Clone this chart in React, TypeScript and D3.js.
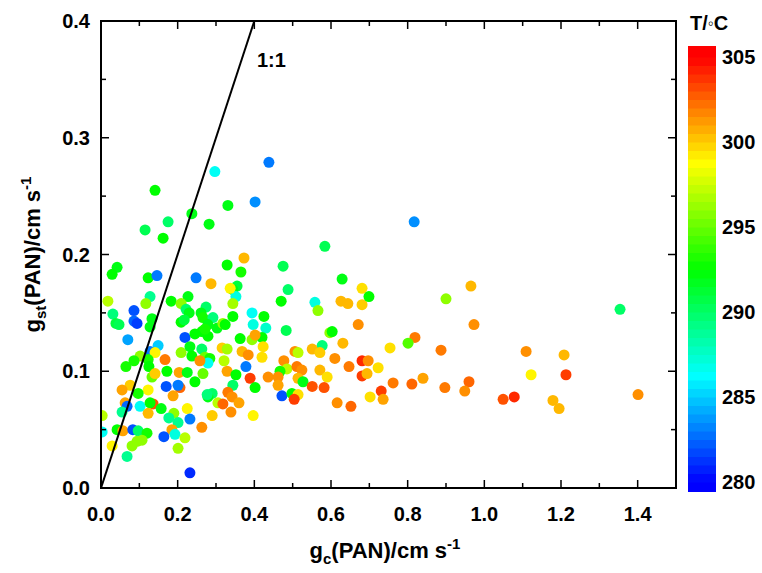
import React from "react";
import * as d3 from "d3";

// g_c(PAN) values (cm s^-1)
const gc = [
  0.297, 0.438, 0.402, 0.331, 0.141, 0.817, 0.237, 0.282, 0.175, 0.115, 0.162, 0.584, 0.373, 0.329, 0.365, 0.475, 0.629, 0.042, 0.029, 0.123, 0.146, 0.248,
  0.287, 0.018, 0.128, 0.117, 0.183, 0.227, 0.209, 0.222, 0.230, 0.274, 0.261, 0.266, 0.292, 0.086, 0.086, 0.094, 0.031, 0.039, 0.047, 0.133, 0.128, 0.209, 0.217, 0.303, 0.318, 0.279,
  0.219, 0.070, 0.245, 0.263, 0.279, 0.271, 0.149, 0.128, 0.141, 0.102, 0.086, 0.123, 0.209, 0.232, 0.237, 0.263, 0.271, 0.284, 0.279, 0.258, 0.316, 0.167,
  0.065, 0.125, 0.133, 0.172, 0.204, 0.225, 0.206, 0.201, 0.170, 0.266, 0.245, 0.141, 0.076, 0.055, 0.123, 0.097, 0.290, 0.305,
  0.136, 0.063, 0.068, 0.102, 0.128, 0.055, 0.123, 0.157, 0.190, 0.188, 0.225, 0.232, 0.177, 0.201, 0.263, 0.290, 0.279, 0.003, 0.003, 0.042, 0.057, 0.083, 0.097, 0.120,
  0.185, 0.193, 0.164, 0.219, 0.201, 0.029, 0.081, 0.094, 0.107, 0.068, 0.232, 0.277,
  0.681, 0.488, 0.355, 0.344, 0.352, 0.344, 0.337, 0.470, 0.558, 0.566, 0.626, 0.644, 0.681, 0.394, 0.425, 0.397, 0.430, 0.344, 0.324, 0.483, 0.597, 0.603, 0.671, 0.631,
  0.577, 0.394, 0.420, 0.363, 0.402, 0.423, 0.329, 0.368, 0.384, 0.420, 0.506, 0.514, 0.551, 0.571, 0.610, 0.681, 0.647, 0.321, 0.329, 0.378, 0.477, 0.485, 0.467,
  0.511, 0.524, 0.571, 0.590, 0.681, 0.514, 0.527, 0.389, 0.436, 0.352, 0.344, 0.402, 0.462, 0.462, 0.551, 0.582, 0.472, 0.498, 0.514, 0.504, 0.331, 0.342, 0.360,
  0.318, 0.339, 0.397, 0.616, 0.652,
  0.699, 0.965, 0.900, 0.973, 0.819, 0.801, 0.754, 0.887, 0.697, 0.723, 0.694, 0.762, 0.811, 0.840, 0.731, 0.702, 0.736, 0.897, 0.960, 0.949, 1.049, 1.078,
  1.354, 1.109, 1.208, 1.122, 1.213, 1.179, 1.195, 1.401,
  -0.012, -0.012,
];

// g_st(PAN) values (cm s^-1)
const gst = [
  0.271, 0.279, 0.245, 0.242, 0.255, 0.228, 0.235, 0.226, 0.228, 0.221, 0.214, 0.207, 0.197, 0.191, 0.185, 0.190, 0.179, 0.189, 0.183, 0.180, 0.182, 0.180,
  0.175, 0.160, 0.164, 0.158, 0.160, 0.164, 0.158, 0.153, 0.150, 0.155, 0.150, 0.146, 0.146, 0.152, 0.143, 0.141, 0.149, 0.141, 0.140, 0.145, 0.138, 0.142, 0.144, 0.137, 0.141, 0.140,
  0.129, 0.127, 0.132, 0.134, 0.130, 0.136, 0.122, 0.117, 0.116, 0.113, 0.109, 0.110, 0.116, 0.121, 0.113, 0.119, 0.112, 0.111, 0.107, 0.109, 0.120, 0.110,
  0.104, 0.104, 0.095, 0.100, 0.099, 0.099, 0.086, 0.088, 0.087, 0.098, 0.091, 0.098, 0.088, 0.084, 0.084, 0.081, 0.081, 0.073,
  0.072, 0.073, 0.070, 0.070, 0.073, 0.065, 0.064, 0.068, 0.064, 0.079, 0.068, 0.059, 0.060, 0.056, 0.052, 0.062, 0.078, 0.062, 0.048, 0.050, 0.049, 0.050, 0.049, 0.047,
  0.050, 0.046, 0.044, 0.043, 0.034, 0.036, 0.036, 0.040, 0.041, 0.027, 0.013, 0.080,
  0.171, 0.170, 0.173, 0.170, 0.164, 0.158, 0.171, 0.160, 0.159, 0.152, 0.160, 0.158, 0.157, 0.150, 0.147, 0.140, 0.137, 0.147, 0.140, 0.135, 0.133, 0.134, 0.140, 0.124,
  0.122, 0.127, 0.129, 0.128, 0.131, 0.121, 0.119, 0.117, 0.114, 0.112, 0.117, 0.116, 0.119, 0.116, 0.111, 0.109, 0.104, 0.109, 0.100, 0.104, 0.109, 0.102, 0.100,
  0.104, 0.101, 0.101, 0.095, 0.096, 0.094, 0.091, 0.094, 0.095, 0.097, 0.088, 0.086, 0.095, 0.088, 0.087, 0.086, 0.079, 0.081, 0.080, 0.076, 0.082, 0.078, 0.073,
  0.072, 0.065, 0.062, 0.073, 0.070,
  0.164, 0.173, 0.162, 0.140, 0.129, 0.124, 0.120, 0.118, 0.109, 0.103, 0.098, 0.090, 0.089, 0.094, 0.083, 0.078, 0.076, 0.086, 0.091, 0.083, 0.076, 0.078,
  0.153, 0.117, 0.114, 0.097, 0.097, 0.075, 0.068, 0.080,
  0.169, 0.134,
];

// Temperature per point
const temp = [
  286.5, 283, 283.5, 292, 292.5, 283.5, 292, 292, 290, 290.5, 292.5, 290.5, 300.5, 292.5, 293, 290.5, 292, 292, 292.5, 292.5, 283, 283,
  300.5, 297, 289, 296, 292.5, 292, 296, 290, 292, 290, 292, 293, 289.5, 282, 282.5, 281.5, 289.5, 291, 290.5, 292, 292, 292.5, 291, 292, 296, 292,
  282, 284, 292.5, 292.5, 292.5, 293, 285, 283, 299, 296, 293, 293, 296, 292, 292.5, 290, 295, 293, 286.5, 301.5, 300, 302,
  293, 292.5, 295, 292.5, 301, 292, 302.5, 283, 282, 295, 292.5, 300, 300, 301, 299, 293, 290, 297,
  303, 301, 282.5, 286.5, 292.5, 289, 300.5, 292, 296, 301, 299, 283, 289, 289, 301.5, 300, 292, 297, 286.5, 292.5, 301, 282, 290, 293,
  301, 287, 282, 297, 296.5, 299, 296, 296, 296, 289, 281, 289.5,
  299.5, 290, 291, 292, 287, 296.5, 299, 292.5, 287, 296, 300.5, 300.5, 300, 286.5, 292.5, 287, 287.5, 292.5, 292.5, 290.5, 296, 292.5, 301.5, 300.5,
  289.5, 296, 292.5, 292.5, 301, 299.5, 296.5, 300.5, 301.5, 299.5, 301.5, 297, 300.5, 300, 301.5, 304, 302, 297, 301, 283, 301.5, 297, 293,
  302, 301.5, 300.5, 299.5, 303.5, 300.5, 292, 303.5, 301.5, 292.5, 290, 292.5, 301.5, 301, 303, 303, 282, 292.5, 299.5, 303.5, 302, 301.5, 301,
  302.5, 301.5, 299, 301.5, 302.5,
  292.5, 300.5, 296, 301.5, 302, 294.5, 299.5, 302, 301.5, 299.5, 300.5, 302, 302.5, 301, 303.5, 299.5, 301, 302, 302.5, 301.5, 303, 304,
  290, 301.5, 300.5, 299, 303.5, 300.5, 300.5, 301.5,
  298, 292,
];

const xTicksMajor = [0, 0.2, 0.4, 0.6, 0.8, 1.0, 1.2, 1.4];
const xTicksMinor = [0.1, 0.3, 0.5, 0.7, 0.9, 1.1, 1.3, 1.5];
const yTicksMajor = [0, 0.1, 0.2, 0.3, 0.4];
const yTicksMinor = [0.05, 0.15, 0.25, 0.35];
const cbTicks = [280, 285, 290, 295, 300, 305];
const colorStops = [280, 286.25, 292.5, 298.75, 305];
const colorNames = ["#0000ff", "#00ffff", "#00ff00", "#ffff00", "#ff0000"];

const W = 762;
const H = 573;
const L = 101, R = 676, T = 21, B = 488;
const FONT = "Arial, 'Liberation Sans', Helvetica, sans-serif";

export default function App() {
  const x = d3.scaleLinear().domain([0, 1.5]).range([L, R]);
  const y = d3.scaleLinear().domain([0, 0.4]).range([B, T]);
  const color = d3.scaleLinear<string>().domain(colorStops).range(colorNames).clamp(true);
  const q = (v: number) => Math.round(v * 2) / 2;

  const cb = d3.scaleLinear().domain([280, 305]).range([482, 57]);
  const cbTop = 46, cbBot = 492, cbL = 688, cbR = 716;
  const bands: number[] = d3.range(279, 306, 0.5);

  const pts = gc.map((v, i) => ({ gx: v, gy: gst[i], t: temp[i] }));
  const lineGen = d3.line<[number, number]>().x((d) => x(d[0])).y((d) => y(d[1]));

  const maj = 8, mn = 5;

  return (
    <svg width={W} height={H} style={{ position: "absolute", left: 0, top: 0, background: "#fff" }} fontFamily={FONT}>
      <defs>
        <clipPath id="plotclip">
          <rect x={L} y={T} width={R - L} height={B - T} />
        </clipPath>
        <clipPath id="cbclip">
          <rect x={cbL} y={cbTop} width={cbR - cbL} height={cbBot - cbTop} />
        </clipPath>
      </defs>
      <rect x={0} y={0} width={W} height={H} fill="#fff" />
      <g clipPath="url(#plotclip)">
        {pts.map((p, i) => (
          <circle key={i} cx={x(p.gx)} cy={y(p.gy)} r={5.5} fill={color(q(p.t))} />
        ))}
        <path d={lineGen([[0, 0], [0.4, 0.4]]) || ""} stroke="#000" strokeWidth={2} fill="none" />
      </g>
      <rect x={L} y={T} width={R - L} height={B - T} fill="none" stroke="#000" strokeWidth={2} />
      {xTicksMajor.map((v) => (
        <g key={"xM" + v}>
          <line x1={x(v)} x2={x(v)} y1={B} y2={B - maj} stroke="#000" strokeWidth={1.5} />
          <line x1={x(v)} x2={x(v)} y1={T} y2={T + maj} stroke="#000" strokeWidth={1.5} />
          <text x={x(v)} y={521} textAnchor="middle" fontSize={20} fontWeight="bold">
            {v.toFixed(1)}
          </text>
        </g>
      ))}
      {xTicksMinor.map((v) => (
        <g key={"xm" + v}>
          <line x1={x(v)} x2={x(v)} y1={B} y2={B - mn} stroke="#000" strokeWidth={1.5} />
          <line x1={x(v)} x2={x(v)} y1={T} y2={T + mn} stroke="#000" strokeWidth={1.5} />
        </g>
      ))}
      {yTicksMajor.map((v) => (
        <g key={"yM" + v}>
          <line x1={L} x2={L + maj} y1={y(v)} y2={y(v)} stroke="#000" strokeWidth={1.5} />
          <line x1={R} x2={R - maj} y1={y(v)} y2={y(v)} stroke="#000" strokeWidth={1.5} />
          <text x={90} y={y(v) + 7} textAnchor="end" fontSize={20} fontWeight="bold">
            {v.toFixed(1)}
          </text>
        </g>
      ))}
      {yTicksMinor.map((v) => (
        <g key={"ym" + v}>
          <line x1={L} x2={L + mn} y1={y(v)} y2={y(v)} stroke="#000" strokeWidth={1.5} />
          <line x1={R} x2={R - mn} y1={y(v)} y2={y(v)} stroke="#000" strokeWidth={1.5} />
        </g>
      ))}
      <text x={257} y={67} fontSize={20} fontWeight="bold">1:1</text>
      <text x={385} y={558} textAnchor="middle" fontSize={22} fontWeight="bold">
        g<tspan fontSize={15} dy={6}>c</tspan>
        <tspan dy={-6}>(PAN)/cm s</tspan>
        <tspan fontSize={15} dy={-9}>-1</tspan>
      </text>
      <text transform={`translate(40,${(T + B) / 2}) rotate(-90)`} textAnchor="middle" fontSize={22} fontWeight="bold">
        g<tspan fontSize={15} dy={6}>st</tspan>
        <tspan dy={-6}>(PAN)/cm s</tspan>
        <tspan fontSize={15} dy={-9}>-1</tspan>
      </text>
      <g clipPath="url(#cbclip)">
        {bands.map((v) => (
          <rect key={v} x={cbL} width={cbR - cbL} y={cb(v + 0.5)} height={cb(v) - cb(v + 0.5) + 0.5} fill={color(v + 0.25)} />
        ))}
      </g>
      {cbTicks.map((v) => (
        <text key={"cb" + v} x={722} y={cb(v) + 7} fontSize={20} fontWeight="bold">
          {v}
        </text>
      ))}
      <text x={690} y={30} fontSize={20} fontWeight="bold">
        T/<tspan fontSize={17} fontWeight="normal" dy={-1}>◦</tspan><tspan dy={1}>C</tspan>
      </text>
    </svg>
  );
}
